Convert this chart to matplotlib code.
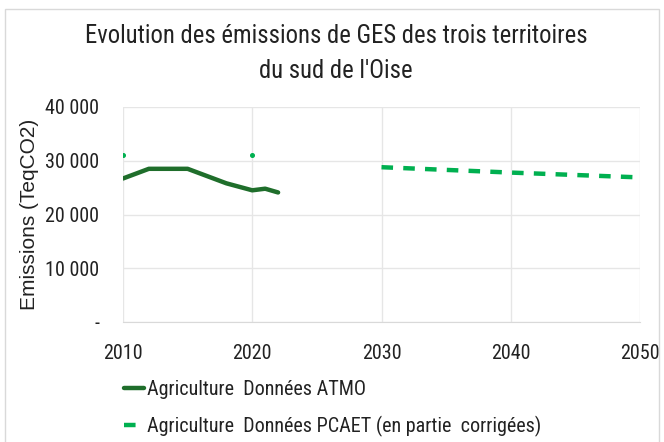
import matplotlib.pyplot as plt
from matplotlib.ticker import FuncFormatter

plt.rcParams['font.family'] = ['Roboto Condensed', 'DejaVu Sans']

# Agriculture - ATMO data
atmo_years = [2010, 2012, 2015, 2018, 2020, 2021, 2022]
atmo_values = [26700, 28500, 28500, 25800, 24500, 24800, 24100]

# Agriculture - PCAET data (partly corrected)
pcaet_pts_years = [2010, 2020]
pcaet_pts_values = [31000, 31000]
pcaet_years = [2030, 2040, 2050]
pcaet_values = [28800, 27800, 26900]

y_ticks = [0, 10000, 20000, 30000, 40000]
x_ticks = [2010, 2020, 2030, 2040, 2050]

title_lines = ["Evolution des émissions de GES des trois territoires", "du sud de l'Oise"]


def thousands(v, pos):
    if v == 0:
        return '-'
    return '{:,.0f}'.format(v).replace(',', ' ')


fig = plt.figure(figsize=(6.64, 4.42), dpi=100)
ax = fig.add_axes([123 / 664, 1 - 322 / 442, (640 - 123) / 664, (322 - 107) / 442])

ax.plot(atmo_years, atmo_values, color='#1f6e2b', linewidth=3.2,
        solid_capstyle='round', label='Agriculture  Données ATMO')
ax.plot(pcaet_years, pcaet_values, color='#00b050', linewidth=3.2,
        linestyle=(0, (2.6, 2.3)), label='Agriculture  Données PCAET (en partie  corrigées)')
ax.plot(pcaet_pts_years, pcaet_pts_values, linestyle='none', marker='o',
        markersize=2.6, color='#00b050')

ax.set_xlim(2010, 2050)
ax.set_ylim(0, 40000)
ax.set_xticks(x_ticks)
ax.set_yticks(y_ticks)
ax.yaxis.set_major_formatter(FuncFormatter(thousands))
ax.tick_params(length=0, labelsize=14.5, colors='#222222')
ax.tick_params(axis='x', pad=16)
ax.tick_params(axis='y', pad=17)
ax.grid(True, color='#e6e6e6', linewidth=1)
ax.set_axisbelow(True)
for side in ['top', 'right', 'left']:
    ax.spines[side].set_visible(False)
ax.spines['bottom'].set_color('#d9d9d9')
for lbl in ax.get_xticklabels() + ax.get_yticklabels():
    lbl.set_clip_on(False)

ax.set_ylabel('Emissions (TeqCO2)', fontsize=15, family=['Liberation Sans', 'DejaVu Sans'],
              color='#222222')
ax.yaxis.set_label_coords(-0.162, 0.5)

# title, two lines placed on their baselines
fig.text(336 / 664, 1 - 43 / 442, title_lines[0], ha='center', va='baseline',
         fontsize=17.7, color='#222222')
fig.text(336 / 664, 1 - 78 / 442, title_lines[1], ha='center', va='baseline',
         fontsize=17.7, color='#222222')

fig.legend(loc='upper left', bbox_to_anchor=(124 / 664, 1 - 380 / 442), frameon=False,
           fontsize=14.5, handlelength=1.0, handletextpad=0.15, labelspacing=0.85,
           borderpad=0, borderaxespad=0, labelcolor='#222222')

fig.patches.append(plt.Rectangle((5 / 664, -0.05), 1 - 10 / 664, 1.05 - 9 / 442,
                                 transform=fig.transFigure, fill=False,
                                 edgecolor='#d9d9d9', linewidth=1))

fig.savefig('out.png', dpi=100)
